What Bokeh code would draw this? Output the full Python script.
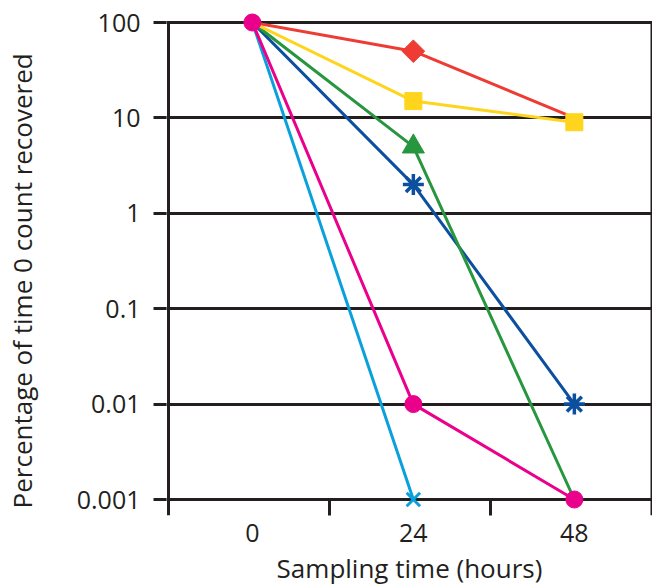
import math
from bokeh.plotting import figure
from bokeh.models import FixedTicker, CustomJSTickFormatter
from bokeh.embed import file_html
from bokeh.resources import INLINE

# ---- data ----
hours = [0, 24, 48]
red_vals = [100, 50, 10]
yellow_vals = [100, 15, 9]
green_vals = [100, 5, 0.001]
blue_vals = [100, 2, 0.01]
magenta_vals = [100, 0.01, 0.001]
cyan_hours = [0, 24]
cyan_vals = [100, 0.001]

y_ticks = [0.001, 0.01, 0.1, 1, 10, 100]
x_tick_labels = [0, 24, 48]
x_divisions = [11.5, 35.5]
x_edges = [-12.5, 59.5]

y_title = "Percentage of time 0 count recovered"
x_title = "Sampling time (hours)"

INK = "#231f20"
FONT = "Open Sans"
FS = "25px"
FS_TITLE = "26px"

# ---- layout (pixels) ----
W, H = 652, 588
LEFT, RIGHT, TOP, BOTTOM = 166, 0, 12, 73
decade_px = 477 / 5.0
px_per_hour = 483 / 72.0
x0 = x_edges[0] - 2 / px_per_hour
x1 = x_edges[1] + 1 / px_per_hour
y_top = 10 ** (math.log10(max(y_ticks)) + 10 / decade_px)
y_bot = 10 ** (math.log10(min(y_ticks)) - 16 / decade_px)

p = figure(width=W, height=H, y_axis_type="log",
           x_range=(x0, x1), y_range=(y_bot, y_top),
           output_backend="svg", toolbar_location=None,
           min_border_left=LEFT, min_border_right=RIGHT,
           min_border_top=TOP, min_border_bottom=BOTTOM)

p.background_fill_color = "white"
p.border_fill_color = "white"
p.outline_line_color = None

# grid
p.xgrid.visible = False
p.ygrid.ticker = FixedTicker(ticks=y_ticks)
p.ygrid.grid_line_color = INK
p.ygrid.grid_line_width = 3
p.ygrid.grid_line_alpha = 1

# y axis
ya = p.yaxis[0]
ya.ticker = FixedTicker(ticks=y_ticks)
ya.formatter = CustomJSTickFormatter(code="return tick.toString();")
ya.axis_line_color = None
ya.major_tick_line_color = INK
ya.major_tick_line_width = 3
ya.major_tick_out = 13
ya.major_tick_in = 0
ya.minor_tick_line_color = None
ya.major_label_standoff = 13
ya.major_label_text_font = FONT
ya.major_label_text_font_size = FS
ya.major_label_text_color = INK
# trailing no-break spaces shift the title's visible text slightly downward
ya.axis_label = y_title + "\u00a0" * 5
ya.axis_label_standoff = 34
ya.axis_label_text_font = FONT
ya.axis_label_text_font_size = FS_TITLE
ya.axis_label_text_font_style = "normal"
ya.axis_label_text_color = INK

# x axis
xa = p.xaxis[0]
xa.ticker = FixedTicker(ticks=x_tick_labels, minor_ticks=x_divisions)
xa.axis_line_color = None
xa.major_tick_line_color = None
xa.major_tick_out = 0
xa.major_tick_in = 0
xa.minor_tick_line_color = INK
xa.minor_tick_line_width = 3
xa.minor_tick_out = 0
xa.minor_tick_in = 16
xa.major_label_standoff = 8
xa.major_label_text_font = FONT
xa.major_label_text_font_size = FS
xa.major_label_text_color = INK
xa.axis_label = x_title
xa.axis_label_standoff = 5
xa.axis_label_text_font = FONT
xa.axis_label_text_font_size = FS_TITLE
xa.axis_label_text_font_style = "normal"
xa.axis_label_text_color = INK

# frame side lines
p.segment(x0=[x_edges[0]], y0=[max(y_ticks)], x1=[x_edges[0]], y1=[y_bot],
          line_color=INK, line_width=3)
p.segment(x0=[x_edges[1]], y0=[max(y_ticks)], x1=[x_edges[1]], y1=[y_bot],
          line_color=INK, line_width=2)

RED = "#ee3b33"
YELLOW = "#ffd41c"
GREEN = "#27963f"
BLUE = "#0d4f9f"
CYAN = "#0aa0dc"
MAGENTA = "#ea008a"
LW = 3

# lines
p.line(cyan_hours, cyan_vals, line_color=CYAN, line_width=LW)
p.line(hours, magenta_vals, line_color=MAGENTA, line_width=LW)
p.line(hours, blue_vals, line_color=BLUE, line_width=LW)
p.line(hours, green_vals, line_color=GREEN, line_width=LW)
p.line(hours, red_vals, line_color=RED, line_width=LW)
p.line(hours, yellow_vals, line_color=YELLOW, line_width=LW)

# markers (the shared time-0 point is shown by the magenta circle only)
p.scatter(cyan_hours[1:], cyan_vals[1:], marker="x", size=19, line_color=CYAN, line_width=3)
p.scatter(hours[1:], blue_vals[1:], marker="asterisk", size=21, line_color=BLUE, line_width=3.5)
p.scatter(hours[1:2], green_vals[1:2], marker="triangle", size=22, fill_color=GREEN, line_color=GREEN)
p.scatter(hours[1:2], red_vals[1:2], marker="square", angle=math.pi / 4, size=16,
          fill_color=RED, line_color=RED)
p.scatter(hours[1:], yellow_vals[1:], marker="square", size=17, fill_color=YELLOW, line_color=YELLOW)
p.scatter(hours, magenta_vals, marker="circle", size=17, fill_color=MAGENTA, line_color=MAGENTA)

open("out.html", "w").write(file_html(p, INLINE))
